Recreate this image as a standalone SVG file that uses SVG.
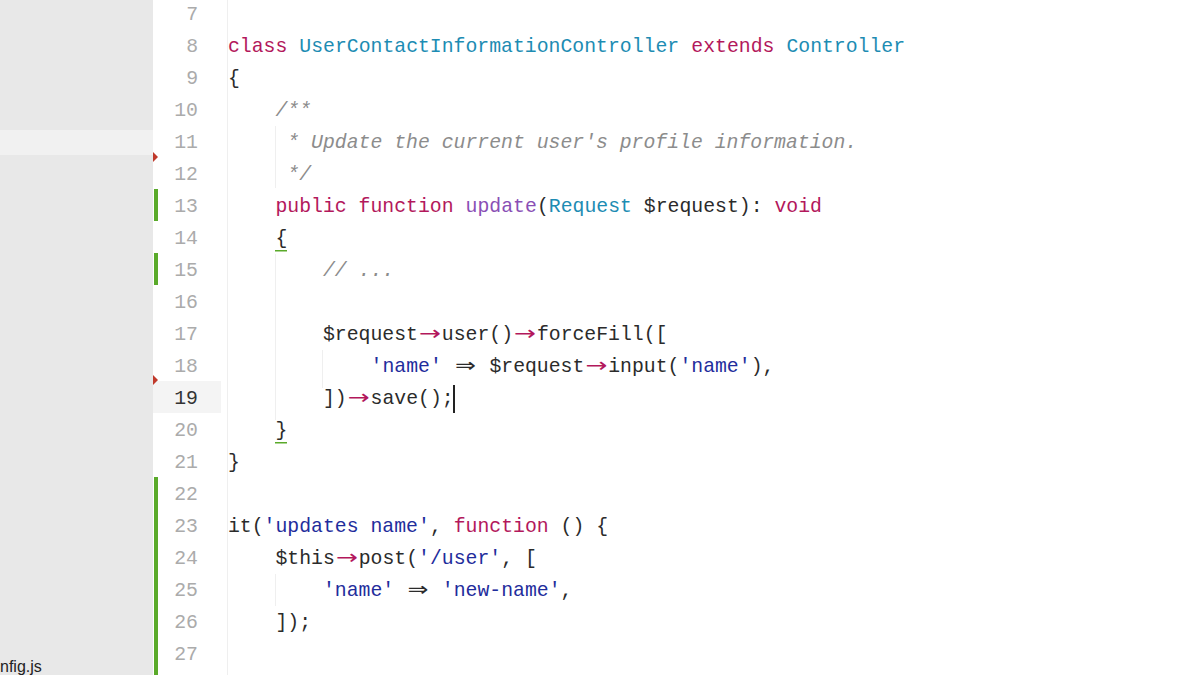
<svg xmlns="http://www.w3.org/2000/svg" width="1200" height="675" viewBox="0 0 1200 675">
<style>
text{font-family:"Liberation Mono","DejaVu Sans Mono",monospace;font-size:19.8px;fill:#2b2b2b}
.n{fill:#ababab;text-anchor:end}
.k{fill:#b3185c}
.t{fill:#1d8cb3}
.f{fill:#8a4fb5}
.s{fill:#1f2d9c}
.c{fill:#8c8c8c;font-style:italic}
.a{fill:#b3185c;font-family:"DejaVu Sans",sans-serif;font-size:20px}
.e{font-family:"DejaVu Sans",sans-serif;font-size:20px}
.g{stroke:#efefef;stroke-width:1}
</style>
<rect width="1200" height="675" fill="#fff"/>
<rect x="0" y="0" width="153" height="675" fill="#e8e8e8"/>
<rect x="0" y="130" width="153" height="25" fill="#f1f1f1"/>
<rect x="153" y="381" width="68" height="32" fill="#f4f4f4"/>
<g id="gutter">
<rect x="154" y="189" width="4" height="32" fill="#5aaa2a"/>
<rect x="154" y="253" width="4" height="32" fill="#5aaa2a"/>
<rect x="154" y="477" width="4" height="198" fill="#5aaa2a"/>
<polygon points="153,152 158,157 153,162" fill="#c0392b"/>
<polygon points="153,375 158,380 153,385" fill="#c0392b"/>
</g>
<g id="guides">
<line class="g" x1="227.5" y1="0" x2="227.5" y2="675"/>
<line class="g" x1="275.5" y1="126" x2="275.5" y2="188"/>
<line class="g" x1="275.5" y1="254" x2="275.5" y2="420"/>
<line class="g" x1="322.5" y1="350" x2="322.5" y2="388"/>
<line class="g" x1="275.5" y1="574" x2="275.5" y2="606"/>
</g>
<g id="numbers">
<text class="n" x="198" y="20">7</text>
<text class="n" x="198" y="52">8</text>
<text class="n" x="198" y="84">9</text>
<text class="n" x="198" y="116">10</text>
<text class="n" x="198" y="148">11</text>
<text class="n" x="198" y="180">12</text>
<text class="n" x="198" y="212">13</text>
<text class="n" x="198" y="244">14</text>
<text class="n" x="198" y="276">15</text>
<text class="n" x="198" y="308">16</text>
<text class="n" x="198" y="340">17</text>
<text class="n" x="198" y="372">18</text>
<text class="n" x="198" y="404" style="fill:#333">19</text>
<text class="n" x="198" y="436">20</text>
<text class="n" x="198" y="468">21</text>
<text class="n" x="198" y="500">22</text>
<text class="n" x="198" y="532">23</text>
<text class="n" x="198" y="564">24</text>
<text class="n" x="198" y="596">25</text>
<text class="n" x="198" y="628">26</text>
<text class="n" x="198" y="660">27</text>
</g>
<g id="code">
<text class="k" x="228" y="52">class</text>
<text class="t" x="299.3" y="52">UserContactInformationController</text>
<text class="k" x="691.3" y="52">extends</text>
<text class="t" x="786.4" y="52">Controller</text>
<text x="228" y="84">{</text>
<text class="c" x="275.5" y="116">/**</text>
<text class="c" x="275.5" y="148" xml:space="preserve"> * Update the current user's profile information.</text>
<text class="c" x="275.5" y="180" xml:space="preserve"> */</text>
<text class="k" x="275.5" y="212">public function</text>
<text class="f" x="465.6" y="212">update</text>
<text x="536.9" y="212">(</text>
<text class="t" x="548.8" y="212">Request</text>
<text x="643.8" y="212">$request):</text>
<text class="k" x="774.5" y="212">void</text>
<text x="275.5" y="244">{</text>
<rect x="275" y="250" width="12" height="1.5" fill="#5aaa2a"/>
<text class="c" x="323" y="276">// ...</text>
<text x="323" y="340">$request</text>
<text class="a" x="419" y="340" textLength="22" lengthAdjust="spacingAndGlyphs">→</text>
<text x="441.8" y="340">user()</text>
<text class="a" x="514" y="340" textLength="22" lengthAdjust="spacingAndGlyphs">→</text>
<text x="536.9" y="340">forceFill([</text>
<text class="s" x="370.6" y="372">'name'</text>
<text class="e" x="455" y="372" textLength="21" lengthAdjust="spacingAndGlyphs">⇒</text>
<text x="489.4" y="372">$request</text>
<text class="a" x="585.5" y="372" textLength="22" lengthAdjust="spacingAndGlyphs">→</text>
<text x="608.2" y="372">input(</text>
<text class="s" x="679.4" y="372">'name'</text>
<text x="750.7" y="372">),</text>
<text x="323" y="404">])</text>
<text class="a" x="347.8" y="404" textLength="22" lengthAdjust="spacingAndGlyphs">→</text>
<text x="370.6" y="404">save();</text>
<rect x="453" y="385" width="2" height="28" fill="#222"/>
<text x="275.5" y="436">}</text>
<rect x="275" y="442" width="12" height="1.5" fill="#5aaa2a"/>
<text x="228" y="468">}</text>
<text x="228" y="532">it(</text>
<text class="s" x="263.6" y="532">'updates name'</text>
<text x="430" y="532">,</text>
<text class="k" x="453.7" y="532">function</text>
<text x="560.6" y="532">() {</text>
<text x="275.5" y="564">$this</text>
<text class="a" x="336" y="564" textLength="22" lengthAdjust="spacingAndGlyphs">→</text>
<text x="358.7" y="564">post(</text>
<text class="s" x="418.1" y="564">'/user'</text>
<text x="501.2" y="564">, [</text>
<text class="s" x="323" y="596">'name'</text>
<text class="e" x="407.5" y="596" textLength="21" lengthAdjust="spacingAndGlyphs">⇒</text>
<text class="s" x="441.8" y="596">'new-name'</text>
<text x="560.6" y="596">,</text>
<text x="275.5" y="628">]);</text>
</g>
<text x="0" y="672" style="font-family:'Liberation Sans',sans-serif;font-size:16px;fill:#222">nfig.js</text>
</svg>
